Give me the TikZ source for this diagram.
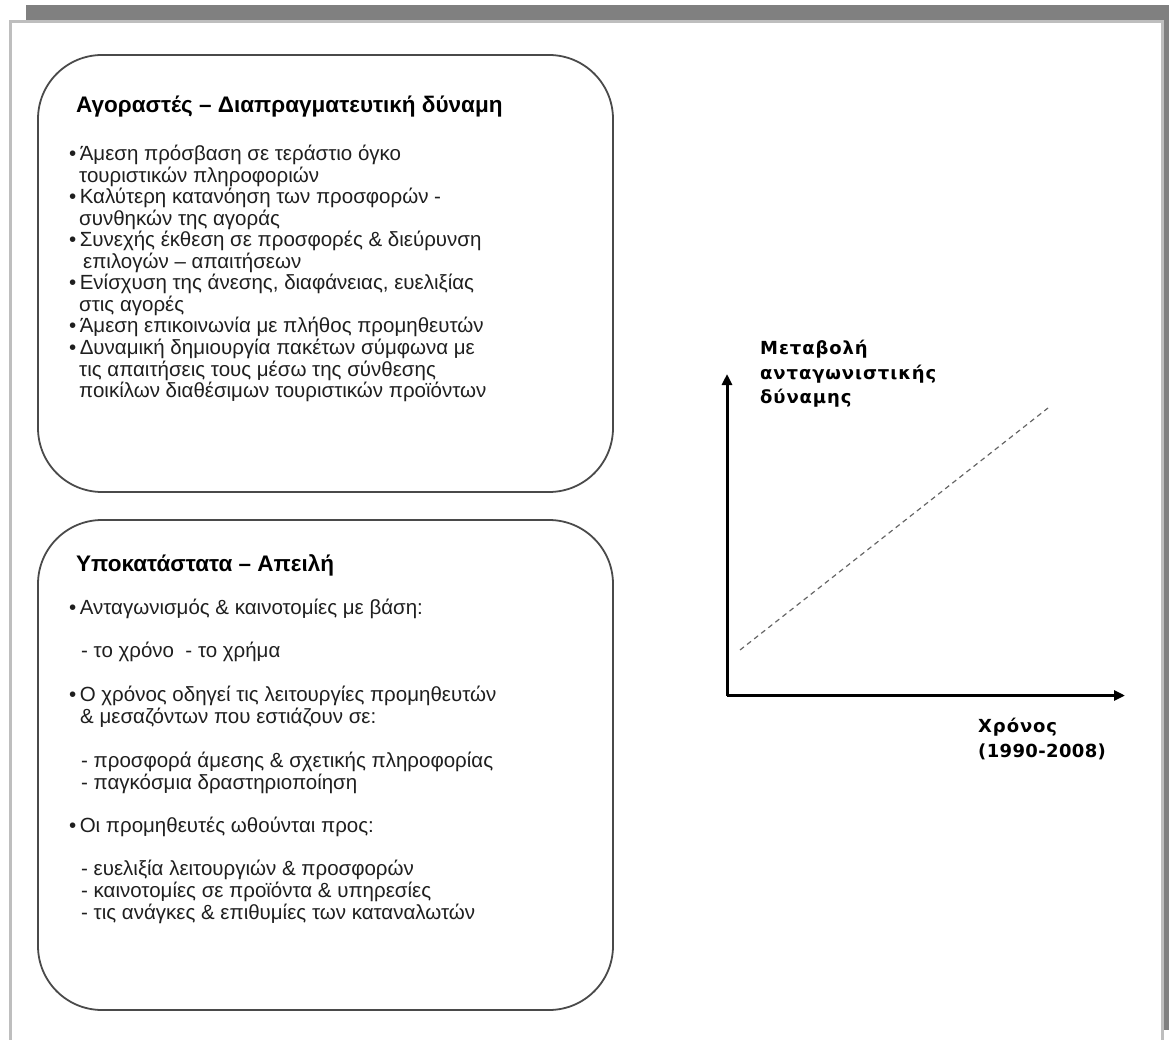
\documentclass[tikz,border=0pt]{standalone}
\usepackage{fontspec}
\setmainfont{Liberation Sans}
\newfontfamily\axisfont[LetterSpace=5]{DejaVu Sans}
\newfontfamily\yearfont[LetterSpace=2]{DejaVu Sans}
\usetikzlibrary{arrows.meta}
\definecolor{shadowgray}{HTML}{808080}
\definecolor{framegray}{HTML}{BEBEBE}
\definecolor{boxline}{HTML}{4A4A4A}
\begin{document}
\begin{tikzpicture}[x=1pt,y=-1pt,
  panel/.style={draw=boxline, line width=1.8pt, rounded corners=64pt},
  heading/.style={anchor=base west, inner sep=0pt, font=\fontsize{22.5}{24}\selectfont\bfseries},
  body/.style={anchor=base west, inner sep=0pt, font=\fontsize{20.5}{21.5}\selectfont, text=black!88},
  axislabel/.style={anchor=base west, inner sep=0pt, font=\fontsize{18}{24}\selectfont\axisfont\bfseries},
  yearlabel/.style={anchor=base west, inner sep=0pt, font=\fontsize{18}{24}\selectfont\yearfont\bfseries},
  axis/.style={line width=3pt, -{Triangle[length=11pt,width=10pt]}},
  trend/.style={draw=black!60, line width=1.2pt, dash pattern=on 5pt off 4pt}]
\useasboundingbox (0,0) rectangle (1169,1040);
\begin{scope}
\clip (0,0) rectangle (1169,1040);
% page shadow and page frame
\fill[shadowgray] (26,5) rectangle (1169,1030);
\filldraw[fill=white, draw=framegray, line width=2.5pt] (10.5,21.5) rectangle (1162.5,1070);
\end{scope}

% upper panel: buyers
\draw[panel] (38,55) rectangle (613,492);
\node[heading] (bt) at (76,113) {Αγοραστές – Διαπραγματευτική δύναμη};
\node[body] (b1) at (69,161) {•\,Άμεση πρόσβαση σε τεράστιο όγκο};
\node[body] (b2) at (79,182.5) {τουριστικών πληροφοριών};
\node[body] (b3) at (69,204) {•\,Καλύτερη κατανόηση των προσφορών -};
\node[body] (b4) at (79,225.5) {συνθηκών της αγοράς};
\node[body] (b5) at (69,247) {•\,Συνεχής έκθεση σε προσφορές \& διεύρυνση};
\node[body] (b6) at (83,268.5) {επιλογών – απαιτήσεων};
\node[body] (b7) at (69,290) {•\,Ενίσχυση της άνεσης, διαφάνειας, ευελιξίας};
\node[body] (b8) at (79,311.5) {στις αγορές};
\node[body] (b9) at (69,333) {•\,Άμεση επικοινωνία με πλήθος προμηθευτών};
\node[body] (b10) at (69,354.5) {•\,Δυναμική δημιουργία πακέτων σύμφωνα με};
\node[body] (b11) at (79,376) {τις απαιτήσεις τους μέσω της σύνθεσης};
\node[body] (b12) at (79,397.5) {ποικίλων διαθέσιμων τουριστικών προϊόντων};

% lower panel: substitutes
\draw[panel] (38,520) rectangle (613,1010);
\node[heading] (st) at (76,571) {Υποκατάστατα – Απειλή};
\node[body] (s1) at (69,614) {•\,Ανταγωνισμός \& καινοτομίες με βάση:};
\node[body] (s2) at (81,657) {- το χρόνο \ - το χρήμα};
\node[body] (s3) at (69,701) {•\,Ο χρόνος οδηγεί τις λειτουργίες προμηθευτών};
\node[body] (s4) at (80,723) {\& μεσαζόντων που εστιάζουν σε:};
\node[body] (s5) at (81,767) {- προσφορά άμεσης \& σχετικής πληροφορίας};
\node[body] (s6) at (81,789) {- παγκόσμια δραστηριοποίηση};
\node[body] (s7) at (69,832) {•\,Οι προμηθευτές ωθούνται προς:};
\node[body] (s8) at (81,875) {- ευελιξία λειτουργιών \& προσφορών};
\node[body] (s9) at (81,897) {- καινοτομίες σε προϊόντα \& υπηρεσίες};
\node[body] (s10) at (81,919) {- τις ανάγκες \& επιθυμίες των καταναλωτών};

% chart: competitive power over time
\coordinate (origin) at (727,695.5);
\coordinate (ytip) at (727,374);
\coordinate (xtip) at (1125,695.5);
\coordinate (tstart) at (740,650);
\coordinate (tend) at (1048,408);
\draw[axis] (origin) -- (ytip);
\draw[axis] (origin) -- (xtip);
\draw[trend] (tstart) -- (tend);
\node[axislabel] (yl1) at (760,354) {Μεταβολή};
\node[axislabel] (yl2) at (760,379) {ανταγωνιστικής};
\node[axislabel] (yl3) at (760,403) {δύναμης};
\node[axislabel] (xl1) at (978,732) {Χρόνος};
\node[yearlabel] (xl2) at (978,757) {(1990-2008)};
\end{tikzpicture}
\end{document}
